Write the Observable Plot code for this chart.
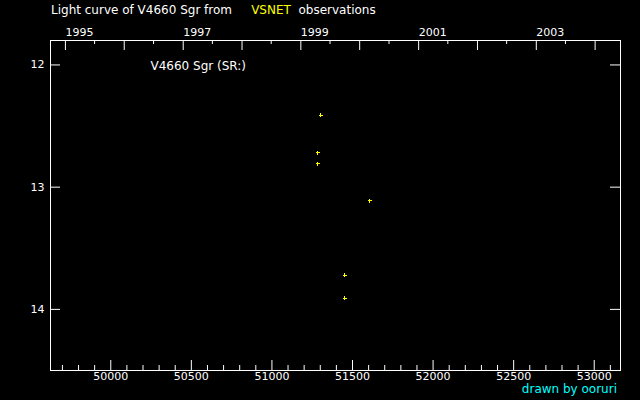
<!DOCTYPE html>
<html>
<head>
<meta charset="utf-8">
<script src="https://cdn.jsdelivr.net/npm/d3@7"></script>
<script src="https://cdn.jsdelivr.net/npm/@observablehq/plot@0.6"></script>
<style>
  body { margin: 0; background: black; }
  #wrap { position: relative; width: 640px; height: 400px; background: black; font-family: "DejaVu Sans", sans-serif; }
  #title { position: absolute; left: 51px; top: 3px; color: white; font-size: 12px; white-space: pre; }
  #title .vs { color: #ffff00; }
  #credit { position: absolute; right: 23px; top: 382px; color: #00ffff; font-size: 12px; }
  g[aria-label="jd-labels"] text { letter-spacing: 0.8px; }
</style>
</head>
<body>
<div id="wrap">
  <div id="chart"></div>
  <div id="title">Light curve of V4660 Sgr from     <span class="vs">VSNET</span>  observations</div>
  <div id="credit">drawn by ooruri</div>
</div>
<script>
// observations (JD - 2400000, visual magnitude)
const jd  = [51303, 51285, 51285, 51608, 51452, 51452];
const mag = [12.41, 12.72, 12.81, 13.11, 13.72, 13.91];

const jdLabels = [50000, 50500, 51000, 51500, 52000, 52500, 53000];
const yearTicks = [1995, 1996, 1997, 1998, 1999, 2000, 2001, 2002, 2003, 2004];
const yearLabels = [1995, 1997, 1999, 2001, 2003];
const magTicks = [12, 13, 14];
const starName = "V4660 Sgr (SR:)";

// JD - 2400000 at 1 Jan of a year
const jdOfYear = (y, m = 0) => Date.UTC(y, m, 1) / 864e5 + 40587.5;

const data = jd.map((d, i) => ({jd: d, mag: mag[i]}));
const jdMinor = d3.range(49700, 53200, 100).filter(d => d % 500 !== 0);
const halfYears = yearTicks.map(y => jdOfYear(y, 6)).filter(d => d < 53163);

const plot = Plot.plot({
  width: 640,
  height: 400,
  marginLeft: 50,
  marginRight: 20,
  marginTop: 40,
  marginBottom: 30,
  x: {domain: [49626, 53163], axis: null},
  y: {domain: [11.8, 14.5], reverse: true, axis: null},
  style: {
    background: "black",
    color: "white",
    fontFamily: "DejaVu Sans, sans-serif",
    fontSize: "11px"
  },
  marks: [
    Plot.frame({stroke: "white"}),
    // bottom JD ticks, drawn inward
    Plot.tickX(jdLabels, {x: d => d, insetTop: 320, stroke: "white"}),
    Plot.tickX(jdMinor, {x: d => d, insetTop: 325, stroke: "white"}),
    Plot.text(jdLabels, {x: d => d, text: d => String(d), frameAnchor: "bottom", dy: 9, fill: "white", ariaLabel: "jd-labels"}),
    // top year ticks
    Plot.tickX(yearTicks.map(y => jdOfYear(y)).filter(d => d < 53163), {x: d => d, insetBottom: 320, stroke: "white"}),
    Plot.tickX(halfYears, {x: d => d, insetBottom: 326, stroke: "white"}),
    Plot.text(yearLabels, {x: d => jdOfYear(d), text: d => String(d), frameAnchor: "top", dy: -12, textAnchor: "start", fill: "white"}),
    // magnitude ticks, left and right
    Plot.tickY(magTicks, {y: d => d, insetRight: 560, stroke: "white"}),
    Plot.tickY(magTicks, {y: d => d, insetLeft: 560, stroke: "white"}),
    Plot.text(magTicks, {y: d => d, text: d => String(d), frameAnchor: "left", dx: -6, textAnchor: "end", fill: "white"}),
    Plot.text([starName], {frameAnchor: "top-left", dx: 100, dy: 21, textAnchor: "start", fill: "white", fontSize: 12}),
    Plot.dot(data, {x: "jd", y: "mag", symbol: "plus", r: 1.4, stroke: "#ffff00", strokeWidth: 1, shapeRendering: "crispEdges"})
  ]
});

d3.select("#chart").append(() => plot);
</script>
</body>
</html>
